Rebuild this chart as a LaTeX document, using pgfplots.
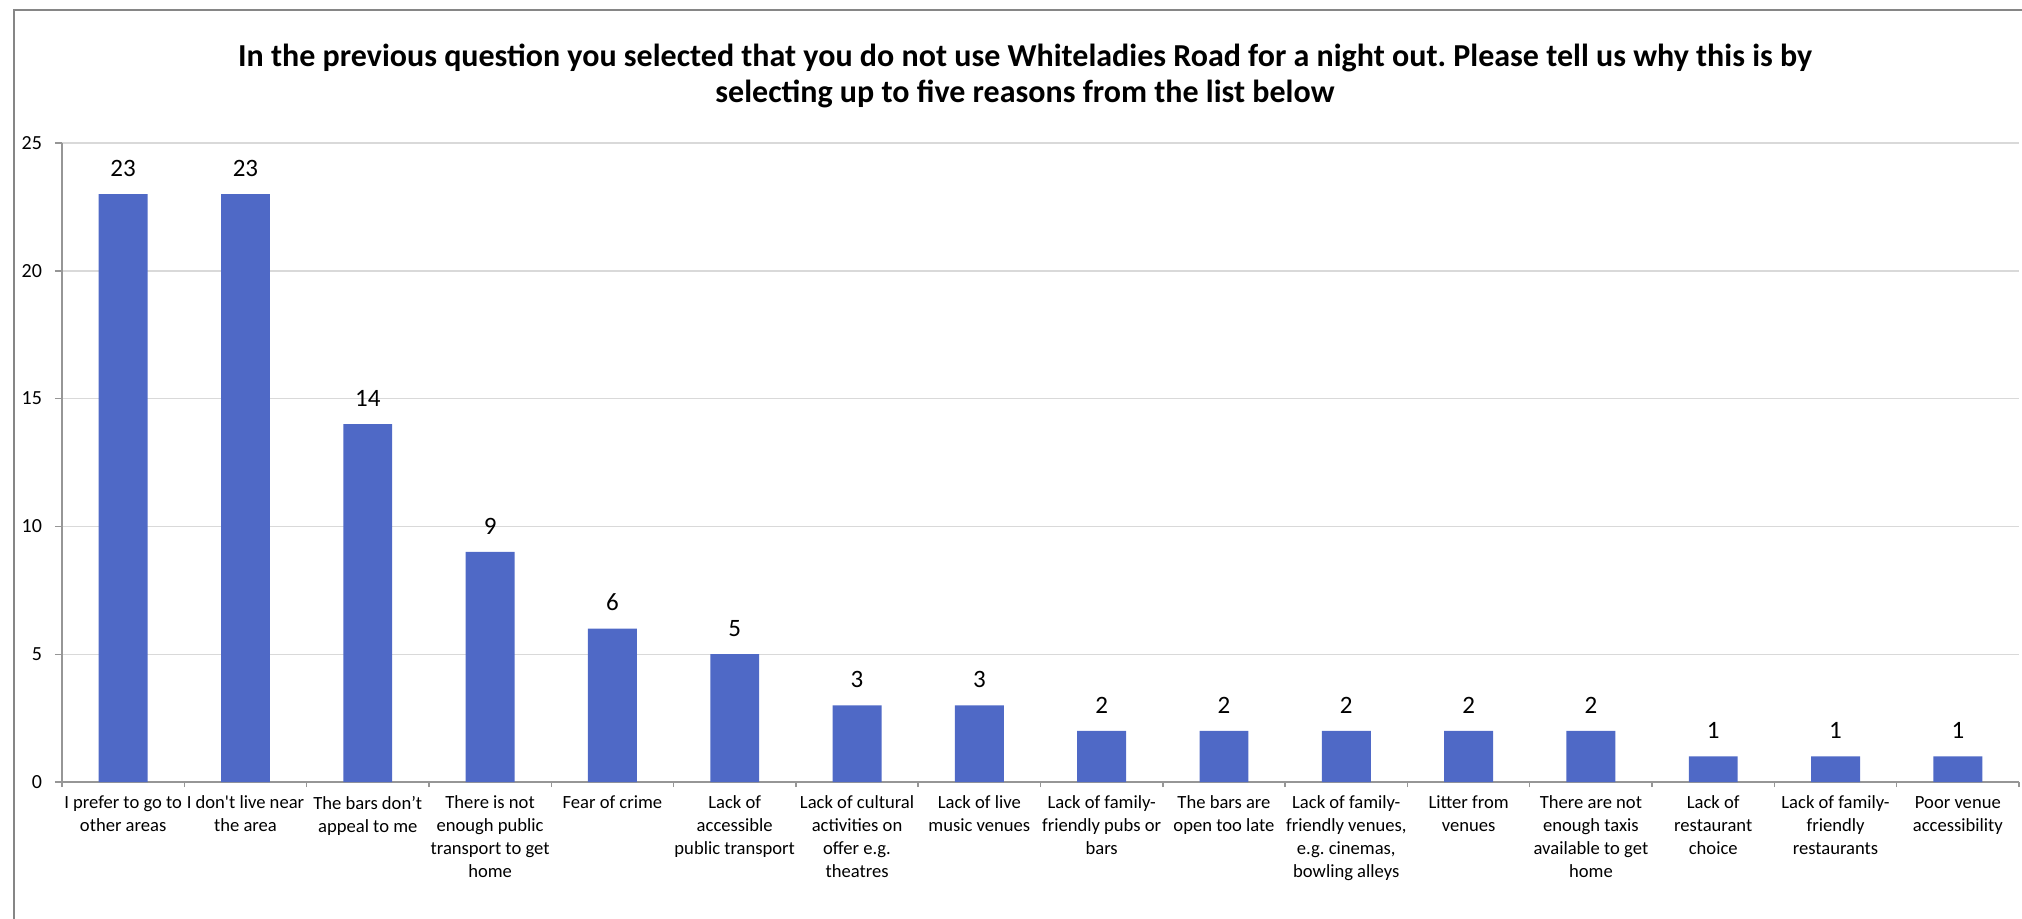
\documentclass[border=0pt]{standalone}
\usepackage{pgfplots}
\pgfplotsset{compat=1.18}
\usepackage{fontspec}
\setmainfont{Carlito}
\frenchspacing
\definecolor{barblue}{RGB}{79,105,198}
\definecolor{axgray}{RGB}{150,150,150}
\definecolor{gridgray}{RGB}{217,217,217}
\definecolor{framegray}{RGB}{134,134,134}
\begin{document}
\begin{tikzpicture}
\useasboundingbox (0,0) rectangle (1011pt,459pt);
\begin{scope}
\clip (0,0) rectangle (1011pt,459pt);
\draw[framegray, line width=1pt] (7pt,-20pt) -- (7pt,454pt) -- (1030pt,454pt);
\end{scope}
\node[font=\bfseries\fontsize{16}{18}\selectfont, align=center] at (512.5pt,421pt) {In the previous question you selected that you do not use Whiteladies Road for a night out. Please tell us why this is by\\selecting up to five reasons from the list below};
\begin{axis}[
  at={(31pt,68pt)}, anchor=south west, scale only axis,
  width=978.5pt, height=319.5pt,
  xmin=-0.5, xmax=15.5, ymin=0, ymax=25,
  ytick={0,5,10,15,20,25},
  ymajorgrids, grid style={gridgray, line width=0.7pt},
  axis x line*=bottom, axis y line*=left,
  axis line style={axgray, line width=0.7pt},
  tick align=outside,
  tick style={axgray, line width=0.7pt},
  major tick length=3.5pt, minor tick length=2.5pt,
  xtick={0,...,15},
  minor xtick={-0.5,0.5,1.5,2.5,3.5,4.5,5.5,6.5,7.5,8.5,9.5,10.5,11.5,12.5,13.5,14.5,15.5},
  major x tick style={draw=none},
  xticklabels={
    {I prefer to go to\\other areas},
    {I don\textquotesingle t live near\\the area},
    {The bars don’t\\appeal to me},
    {There is not\\enough public\\transport to get\\home},
    {Fear of crime},
    {Lack of\\accessible\\public transport},
    {Lack of cultural\\activities on\\offer e.g.\\theatres},
    {Lack of live\\music venues},
    {Lack of family-\\friendly pubs or\\bars},
    {The bars are\\open too late},
    {Lack of family-\\friendly venues,\\e.g. cinemas,\\bowling alleys},
    {Litter from\\venues},
    {There are not\\enough taxis\\available to get\\home},
    {Lack of\\restaurant\\choice},
    {Lack of family-\\friendly\\restaurants},
    {Poor venue\\accessibility}},
  xticklabel style={align=center, font=\fontsize{9.3}{11.5}\selectfont, text=black},
  yticklabel style={font=\fontsize{10}{12}\selectfont, text=black, xshift=-3pt},
  /pgf/number format/assume math mode=true,
  ybar, bar width=0.4,
  nodes near coords,
  every node near coord/.append style={font=\fontsize{12.5}{15}\selectfont, text=black, anchor=center, yshift=13pt},
]
\addplot[fill=barblue, draw=none] coordinates {
  (0,23) (1,23) (2,14) (3,9) (4,6) (5,5) (6,3) (7,3)
  (8,2) (9,2) (10,2) (11,2) (12,2) (13,1) (14,1) (15,1)
};
\end{axis}
\end{tikzpicture}
\end{document}
